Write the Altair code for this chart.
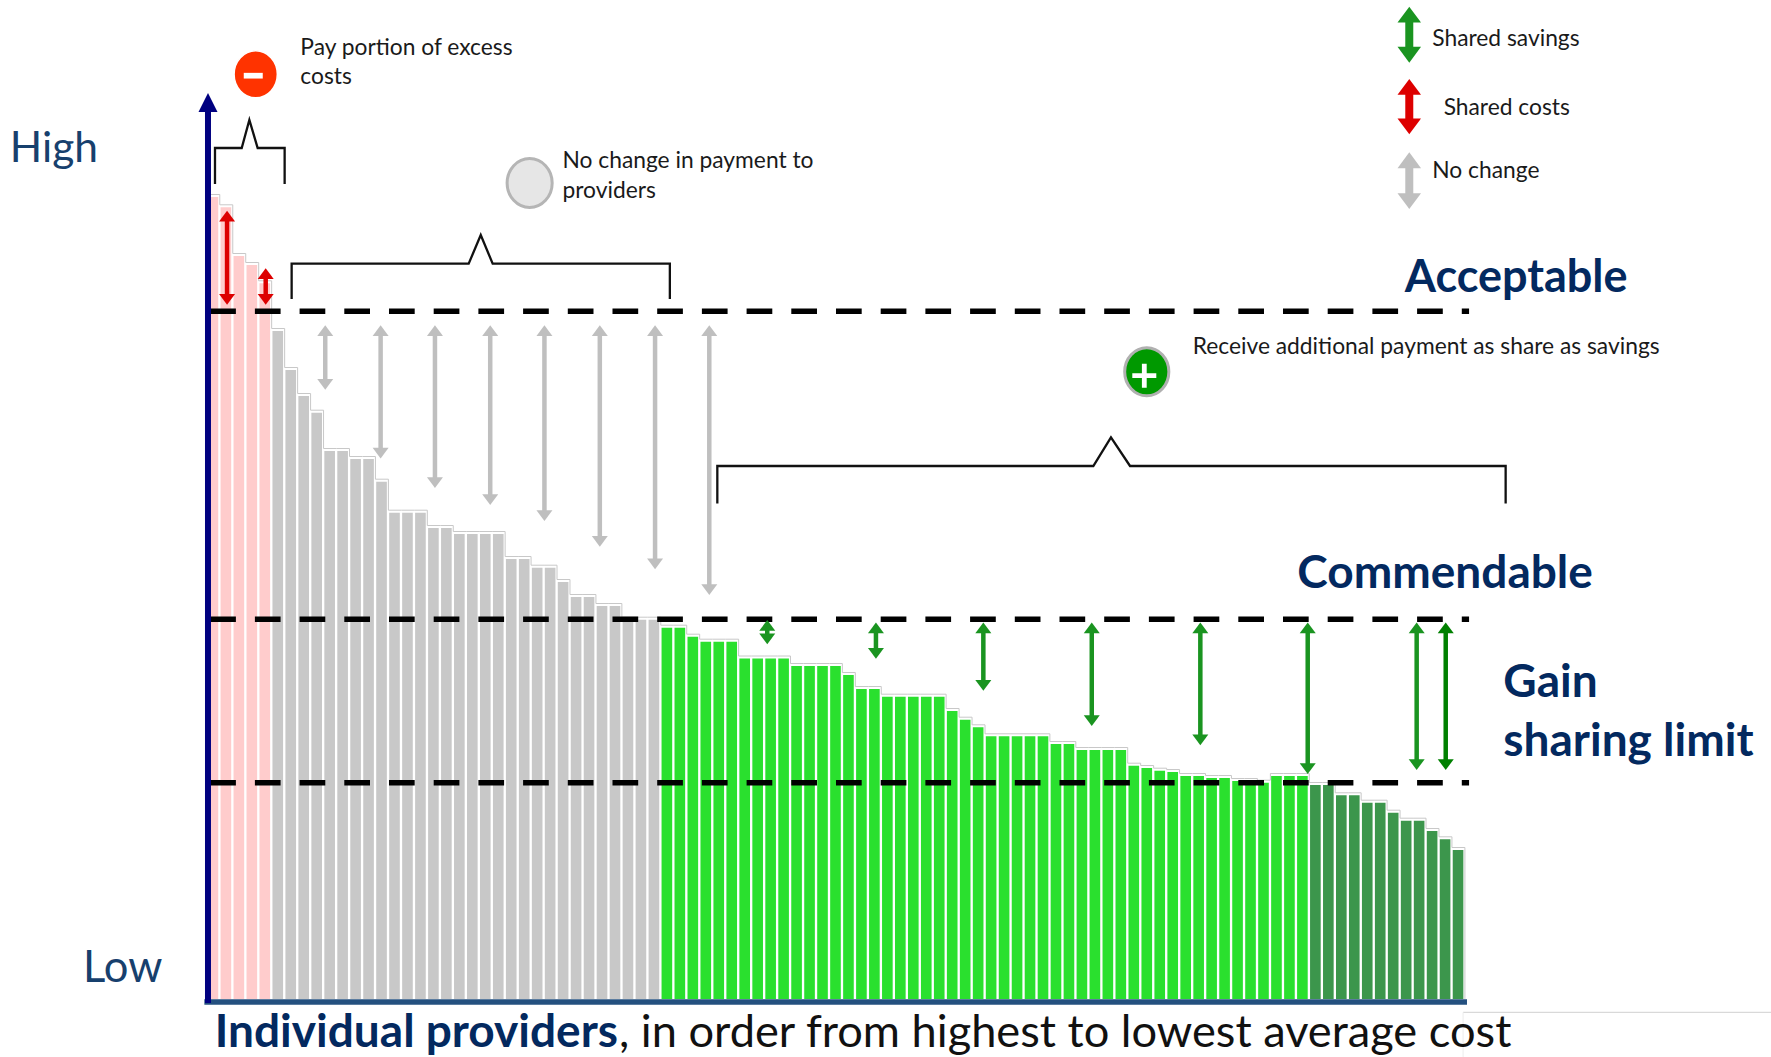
import altair as alt
import pandas as pd

# Average cost per provider, highest to lowest, grouped by outcome band.
excess_costs = [802, 791.7, 743, 734, 715.7]
acceptable_costs = [668, 629, 603, 586.3, 548, 548, 540, 540, 517.3, 486.3, 486.3, 486.3,
                    471, 471, 465, 465, 465, 465, 440, 440, 431.3, 431.3, 417, 402, 402,
                    393, 393, 379.3, 379.3, 379.3]
sharing_costs = [371.3, 371.3, 362.3, 357.3, 357.3, 357.3, 340.5, 340.5, 340.5, 340.5,
                 333, 333, 333, 333, 324, 310, 310, 302.3, 302.3, 302.3, 302.3, 302.3,
                 288, 279.3, 271.7, 262.7, 262.7, 262.7, 262.7, 262.7, 255, 255,
                 249, 249, 249, 249, 233.3, 231, 228.3, 227, 223, 223, 221, 221, 218, 218,
                 216.3, 223, 223, 223]
capped_costs = [214, 214, 203.7, 203.7, 196.3, 196.3, 186.3, 178.3, 178.3, 168, 159.7, 149]
band_colors = ["#ffcccc", "#c8c8c8", "#2ae02e", "#3c964c"]

# Thresholds drawn as dashed rules.
thresholds = [687.7, 379.7, 216.3]

# Double arrows: provider position, upper and lower cost, colour.
RED, GREY, GREEN, DARK_GREEN = "#dd0000", "#bfbfbf", "#1a9420", "#008000"
arrow_rank = [1.5, 4.48, 9.07, 13.34, 17.53, 21.79, 25.97, 30.24, 34.5, 38.68,
              43.15, 51.53, 59.81, 68.17, 76.54, 84.82, 93.22, 95.46]
arrow_top = [788.3, 730.7] + [673.7] * 8 + [379, 376.5, 376.5, 376.5, 376.5, 376.5, 376.5, 376.5]
arrow_bottom = [694.3, 694.3, 609.3, 540.4, 511, 494, 478, 452.3, 429.7, 404,
                354.7, 340.3, 308.3, 273, 253.7, 225, 229, 229]
arrow_color = [RED] * 2 + [GREY] * 8 + [GREEN] * 7 + [DARK_GREEN]

key_rank = [92.65, 92.65, 92.65]
key_top = [992.3, 920, 846.7]
key_bottom = [936.3, 864.7, 790]
key_color = [GREEN, RED, GREY]

# Brackets above each provider group.
bracket_rank = [[0.57, 0.57, 2.63, 3.22, 3.86, 5.94, 5.94],
                [6.48, 6.48, 20.13, 21.06, 21.98, 35.64, 35.64],
                [39.3, 39.3, 68.29, 69.65, 71.12, 100.08, 100.08]]
bracket_cost = [[815, 851, 851, 879, 851, 851, 815],
                [700, 735.3, 735.3, 764, 735.3, 735.3, 700],
                [495.5, 533, 533, 561.7, 533, 533, 495.5]]

RANK_DOMAIN = [-16.006, 120.539]
COST_DOMAIN = [-58, 999]


def X(field="x"):
    return alt.X(field, type="quantitative", axis=None,
                 scale=alt.Scale(domain=RANK_DOMAIN, nice=False, zero=False))


def Y(field="y"):
    return alt.Y(field, type="quantitative", axis=None,
                 scale=alt.Scale(domain=COST_DOMAIN, nice=False, zero=False))


costs = excess_costs + acceptable_costs + sharing_costs + capped_costs
bands = [0] * len(excess_costs) + [1] * len(acceptable_costs) + [2] * len(sharing_costs) + [3] * len(capped_costs)
bars = pd.DataFrame({
    "x": range(len(costs)),
    "x2": [k + 0.82 for k in range(len(costs))],
    "y": costs,
    "y2": 0,
    "fill": [band_colors[b] for b in bands],
})

outline = pd.DataFrame({
    "x": [k - 0.06 for k in range(len(costs))] + [len(costs) - 0.06],
    "y": [c + 2.5 for c in costs] + [0],
})
outline_layer = alt.Chart(outline).mark_line(
    interpolate="step-after", color="#c8c8c8", strokeWidth=1
).encode(x=X(), y=Y())

bar_layer = alt.Chart(bars).mark_rect().encode(
    x=X(), x2="x2", y=Y(), y2="y2", fill=alt.Fill("fill:N", scale=None)
)


def span(rows, color, width, dash=None):
    """Straight rules between two positions."""
    kw = {"strokeDash": dash} if dash else {}
    return alt.Chart(pd.DataFrame(rows)).mark_rule(color=color, strokeWidth=width, **kw)


threshold_layer = span(
    {"x": [0.2] * 3, "x2": [97.26] * 3, "y": thresholds}, "#000000", 5.5, [25.7, 19]
).encode(x=X(), x2="x2", y=Y())

x_axis_line = span({"x": [-0.25], "x2": [97.1], "y": [-3]}, "#24507f", 5.5).encode(x=X(), x2="x2", y=Y())
y_axis_line = span({"x": [0.03], "y": [-4], "y2": [891]}, "#000080", 6).encode(x=X(), y=Y(), y2="y2")
y_axis_head = alt.Chart(pd.DataFrame({"x": [0.03], "y": [906]})).mark_point(
    filled=True, opacity=1, strokeWidth=0, color="#000080", shape="M0,0 L1,2 L-1,2 Z", size=361
).encode(x=X(), y=Y())

frame_h = span({"x": [96.8], "x2": [120.539], "y": [-13.3]}, "#d0d0d0", 1).encode(x=X(), x2="x2", y=Y())
frame_v = span({"x": [96.8], "y": [-13.3], "y2": [-58]}, "#ececec", 1).encode(x=X(), y=Y(), y2="y2")

UP = "M0,0 L1,1.35 L-1,1.35 Z"
DOWN = "M0,0 L1,-1.35 L-1,-1.35 Z"


def arrows(ranks, tops, bottoms, colors, head_width, shaft_width, inset):
    table = pd.DataFrame({"x": ranks, "top": tops, "bottom": bottoms, "c": colors})
    table["shaft_top"] = table["top"] - inset
    table["shaft_bottom"] = table["bottom"] + inset
    color = alt.Color("c:N", scale=None)
    base = alt.Chart(table)
    shaft = base.mark_rule(strokeWidth=shaft_width).encode(x=X(), y=Y("shaft_top"), y2="shaft_bottom", color=color)
    up = base.mark_point(filled=True, opacity=1, strokeWidth=0, shape=UP, size=head_width ** 2).encode(
        x=X(), y=Y("top"), color=color)
    down = base.mark_point(filled=True, opacity=1, strokeWidth=0, shape=DOWN, size=head_width ** 2).encode(
        x=X(), y=Y("bottom"), color=color)
    return shaft + up + down


arrow_layer = arrows(arrow_rank, arrow_top, arrow_bottom, arrow_color, 16, 4.5, 5)
key_layer = arrows(key_rank, key_top, key_bottom, key_color, 23.5, 8, 8)

bracket_rows = pd.DataFrame([
    {"x": px, "y": py, "group": g, "order": i}
    for g, (xs, ys) in enumerate(zip(bracket_rank, bracket_cost))
    for i, (px, py) in enumerate(zip(xs, ys))
])
bracket_layer = alt.Chart(bracket_rows).mark_line(color="#111111", strokeWidth=2.3, strokeJoin="miter").encode(
    x=X(), y=Y(), detail="group:N", order="order:Q"
)

# Status badges: slightly taller than wide.
ELLIPSE = "M-0.92,0 A0.92,1 0 1 1 0.92,0 A0.92,1 0 1 1 -0.92,0 Z"


def badge(rank, cost, fill, stroke, stroke_width, size):
    return alt.Chart(pd.DataFrame({"x": [rank], "y": [cost]})).mark_point(
        filled=True, opacity=1, shape=ELLIPSE, size=size, fill=fill, stroke=stroke, strokeWidth=stroke_width
    ).encode(x=X(), y=Y())


def glyph(rank, cost, path, size):
    return alt.Chart(pd.DataFrame({"x": [rank], "y": [cost]})).mark_point(
        filled=True, opacity=1, strokeWidth=0, color="#ffffff", shape=path, size=size
    ).encode(x=X(), y=Y())


badges = (
    badge(3.71, 924.7, "#ff3300", "#ffffff", 1.5, 47 ** 2)
    + glyph(3.52, 923.3, "M-1,-0.3 L1,-0.3 L1,0.3 L-1,0.3 Z", 19 ** 2)
    + badge(24.83, 816, "#e6e6e6", "#b5b5b5", 3, 49 ** 2)
    + badge(72.41, 627.3, "#009900", "#b0b0b0", 3, 48 ** 2)
    + glyph(72.22, 623.3, "M-0.2,-1 L0.2,-1 L0.2,-0.2 L1,-0.2 L1,0.2 L0.2,0.2 L0.2,1 L-0.2,1 L-0.2,0.2 L-1,0.2 L-1,-0.2 L-0.2,-0.2 Z", 24 ** 2)
)

FONT = "Lato"


def label(text, rank, cost, size, color, bold=False):
    return alt.Chart(pd.DataFrame({"x": [rank], "y": [cost], "t": [text]})).mark_text(
        align="left", baseline="alphabetic", font=FONT, fontSize=size, color=color,
        fontWeight="bold" if bold else "normal"
    ).encode(x=X(), y=Y(), text="t:N")


INK = "#1a1a1a"
NAVY = "#03295f"
AXIS_INK = "#17406d"
labels = (
    label("High", -15.25, 837, 42.5, AXIS_INK)
    + label("Low", -9.6, 17.5, 43.5, AXIS_INK)
    + label("Acceptable", 92.3, 707.5, 45, NAVY, True)
    + label("Commendable", 84.02, 411, 46, NAVY, True)
    + label("Gain", 99.9, 302, 46, NAVY, True)
    + label("sharing limit", 99.9, 243, 46, NAVY, True)
    + label("Individual providers", 0.55, -48, 46, NAVY, True)
    + label(", in order from highest to lowest average cost", 31.72, -48, 45.2, "#111111")
    + label("Pay portion of excess", 7.15, 944, 22.8, INK)
    + label("costs", 7.15, 915, 22.8, INK)
    + label("No change in payment to", 27.36, 830.7, 22.8, INK)
    + label("providers", 27.36, 801.3, 22.8, INK)
    + label("Receive additional payment as share as savings", 75.95, 645.5, 22.8, INK)
    + label("Shared savings", 94.42, 953.5, 22.8, INK)
    + label("Shared costs", 95.3, 884.5, 22.8, INK)
    + label("No change", 94.42, 821, 22.8, INK)
)

chart = (
    alt.layer(
        outline_layer, bar_layer, threshold_layer, x_axis_line, y_axis_line, y_axis_head,
        frame_h, frame_v, arrow_layer, key_layer, bracket_layer, badges, labels
    )
    .properties(width=1771, height=1057, padding=0, autosize=alt.AutoSizeParams(type="none"))
    .configure_view(stroke=None)
)

chart.save("out.html", embed_options={"renderer": "svg", "actions": False})
